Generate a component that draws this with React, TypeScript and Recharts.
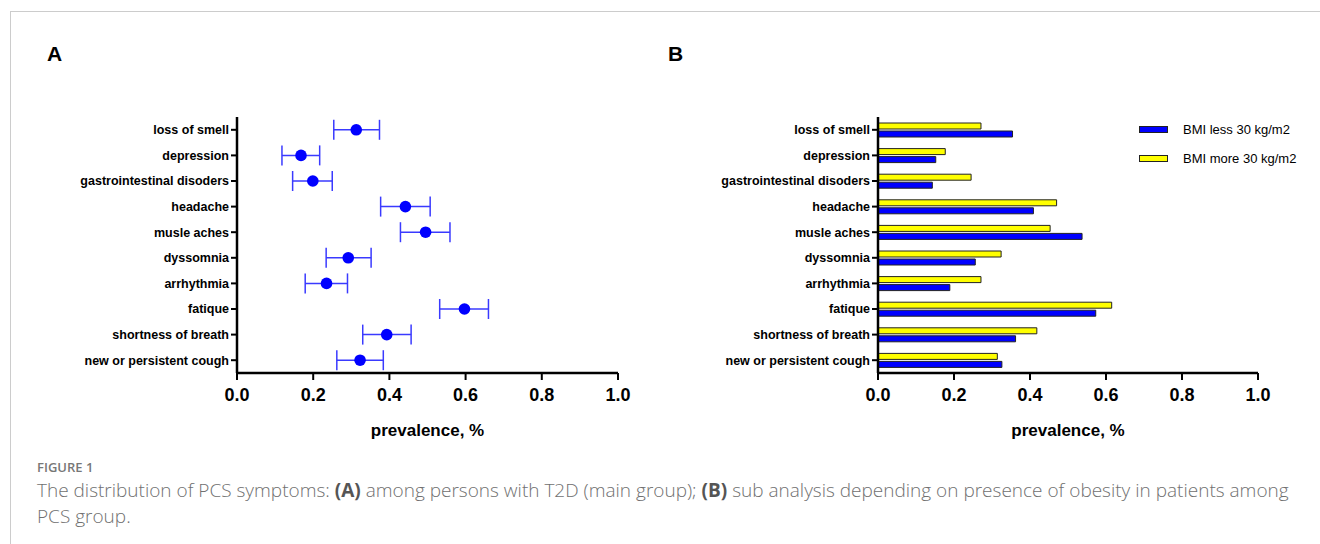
import React from "react";
import {
  ScatterChart,
  Scatter,
  ErrorBar,
  BarChart,
  Bar,
  XAxis,
  YAxis,
} from "recharts";

// symptom categories, top to bottom
const symptoms = [
  "loss of smell",
  "depression",
  "gastrointestinal disoders",
  "headache",
  "musle aches",
  "dyssomnia",
  "arrhythmia",
  "fatique",
  "shortness of breath",
  "new or persistent cough",
];

// panel A: prevalence with confidence interval
const prevalence = [0.313, 0.168, 0.199, 0.442, 0.495, 0.292, 0.235, 0.597, 0.393, 0.323];
const ciLow = [0.254, 0.118, 0.146, 0.377, 0.429, 0.234, 0.179, 0.532, 0.33, 0.262];
const ciHigh = [0.374, 0.217, 0.25, 0.507, 0.559, 0.352, 0.29, 0.66, 0.457, 0.384];

// panel B: split by BMI
const bmiLess30 = [0.354, 0.152, 0.143, 0.409, 0.537, 0.256, 0.189, 0.573, 0.362, 0.326];
const bmiMore30 = [0.271, 0.177, 0.245, 0.47, 0.453, 0.324, 0.271, 0.615, 0.418, 0.314];

const xTicks = [0, 0.2, 0.4, 0.6, 0.8, 1.0];

const scatterData = symptoms.map((name, i) => ({
  name,
  value: prevalence[i],
  err: [prevalence[i] - ciLow[i], ciHigh[i] - prevalence[i]],
}));

const barData = symptoms.map((name, i) => ({
  name,
  less: bmiLess30[i],
  more: bmiMore30[i],
}));

const FONT = "'Liberation Sans', Arial, Helvetica, sans-serif";
const BLUE = "#0000ff";
const YELLOW = "#ffff00";

const xAxisProps = {
  type: "number" as const,
  domain: [0, 1],
  ticks: xTicks,
  tickFormatter: (v: number) => v.toFixed(1),
  tick: { fontSize: 18, fontWeight: 700, fill: "#000", fontFamily: FONT },
  tickSize: 7,
  tickMargin: 8,
  axisLine: { stroke: "#000", strokeWidth: 2.5 },
  tickLine: { stroke: "#000", strokeWidth: 2 },
  height: 87,
  label: {
    value: "prevalence, %",
    position: "insideBottom" as const,
    offset: 24,
    style: { fontSize: 17, fontWeight: 700, fill: "#000", fontFamily: FONT },
  },
};

const yAxisProps = {
  type: "category" as const,
  dataKey: "name",
  tick: { fontSize: 12.5, fontWeight: 700, fill: "#000", fontFamily: FONT },
  tickSize: 6,
  tickMargin: 2,
  axisLine: { stroke: "#000", strokeWidth: 2.5 },
  tickLine: { stroke: "#000", strokeWidth: 2 },
  interval: 0,
};

function Dot(props: any) {
  const { cx, cy } = props;
  return <circle cx={cx} cy={cy} r={5.8} fill={BLUE} />;
}

function PanelA() {
  return (
    <ScatterChart
      width={660}
      height={360}
      margin={{ top: 17, right: 42, left: 0, bottom: 0 }}
    >
      <XAxis {...xAxisProps} dataKey="value" />
      <YAxis {...yAxisProps} width={237} reversed />
      <Scatter data={scatterData} shape={<Dot />} isAnimationActive={false}>
        <ErrorBar
          dataKey="err"
          direction="x"
          width={10}
          stroke="#3a3aff"
          strokeWidth={1.5}
        />
      </Scatter>
    </ScatterChart>
  );
}

function PanelB() {
  return (
    <BarChart
      width={680}
      height={360}
      data={barData}
      layout="vertical"
      margin={{ top: 17, right: 62, left: 0, bottom: 0 }}
      barSize={6}
      barGap={2}
    >
      <XAxis {...xAxisProps} />
      <YAxis {...yAxisProps} width={238} />
      <Bar dataKey="more" fill={YELLOW} stroke="#222" strokeWidth={1} isAnimationActive={false} />
      <Bar dataKey="less" fill={BLUE} stroke="#222" strokeWidth={1} isAnimationActive={false} />
    </BarChart>
  );
}

function LegendRow({ color, label, top }: { color: string; label: string; top: number }) {
  return (
    <div style={{ position: "absolute", left: 1139, top, display: "flex", alignItems: "center" }}>
      <div
        style={{
          width: 27,
          height: 5,
          background: color,
          border: "1px solid #222",
        }}
      />
      <span style={{ marginLeft: 15, fontSize: 13, fontFamily: FONT, color: "#000" }}>{label}</span>
    </div>
  );
}

const bold = { fontWeight: 700, color: "#555" };

export default function App() {
  return (
    <div
      style={{
        position: "absolute",
        left: 0,
        top: 0,
        width: 1320,
        height: 544,
        background: "#fff",
        overflow: "hidden",
      }}
    >
      <div
        style={{
          position: "absolute",
          left: 10,
          top: 11,
          right: 0,
          bottom: 0,
          borderTop: "1.5px solid #cccccc",
          borderLeft: "1.5px solid #cccccc",
        }}
      />
      <div style={{ position: "absolute", left: 47, top: 42, fontSize: 21, fontWeight: 700, fontFamily: FONT }}>A</div>
      <div style={{ position: "absolute", left: 668, top: 42, fontSize: 21, fontWeight: 700, fontFamily: FONT }}>B</div>

      <div style={{ position: "absolute", left: 0, top: 100 }}>
        <PanelA />
      </div>
      <div style={{ position: "absolute", left: 640, top: 100 }}>
        <PanelB />
      </div>

      <LegendRow color={BLUE} label="BMI less 30 kg/m2" top={122} />
      <LegendRow color={YELLOW} label="BMI more 30 kg/m2" top={151} />

      <div
        style={{
          position: "absolute",
          left: 37,
          top: 457,
          fontFamily: "'Open Sans', 'Noto Sans', sans-serif",
          color: "#707070",
        }}
      >
        <div style={{ fontSize: 13, fontWeight: 600, lineHeight: "20px", color: "#777" }}>FIGURE 1</div>
        <div style={{ fontSize: 19, fontWeight: 300, lineHeight: "26px", whiteSpace: "nowrap" }}>
          <span>The distribution of PCS symptoms: </span>
          <span style={bold}>(A)</span>
          <span> among persons with T2D (main group); </span>
          <span style={bold}>(B)</span>
          <span> sub analysis depending on presence of obesity in patients among</span>
        </div>
        <div style={{ fontSize: 19, fontWeight: 300, lineHeight: "26px" }}>PCS group.</div>
      </div>
    </div>
  );
}
